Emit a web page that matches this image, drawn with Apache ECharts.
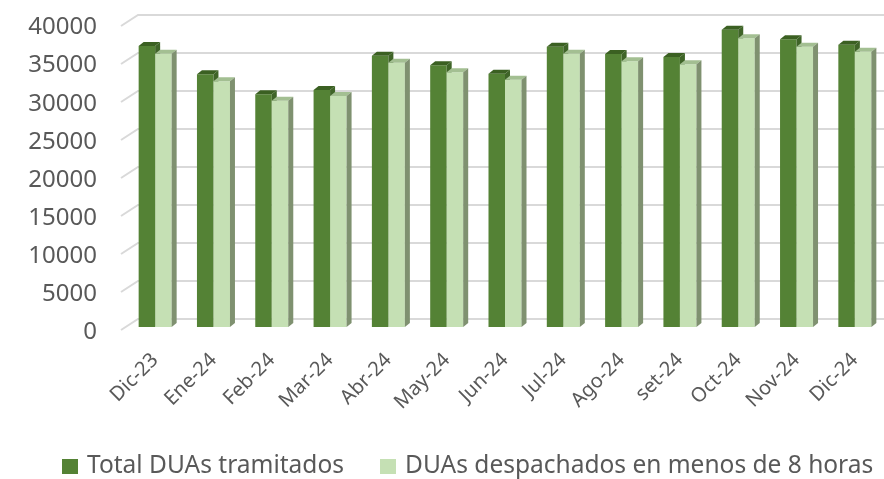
<!DOCTYPE html>
<html>
<head>
<meta charset="utf-8">
<script src="https://cdn.jsdelivr.net/npm/echarts@6/dist/echarts.min.js"></script>
<style>
  html, body { margin: 0; padding: 0; background: #fff; }
  #chart { width: 884px; height: 479px; }
</style>
</head>
<body>
<div id="chart"></div>
<script>
var months = ['Dic-23', 'Ene-24', 'Feb-24', 'Mar-24', 'Abr-24', 'May-24', 'Jun-24',
  'Jul-24', 'Ago-24', 'set-24', 'Oct-24', 'Nov-24', 'Dic-24'];
var totalDuas = [36970, 33250, 30620, 31180, 35700, 34430, 33330, 36880, 35920, 35530, 39120, 37860, 37140];
var despachados = [35960, 32330, 29780, 30400, 34780, 33510, 32540, 35960, 34960, 34570, 37990, 36880, 36220];
var yTicks = [0, 5000, 10000, 15000, 20000, 25000, 30000, 35000, 40000];

var chart = echarts.init(document.getElementById('chart'));

// 3d-looking column: front face, top face, right side face
function column(shift, front, top, side) {
  return function (params, api) {
    var base = api.coord([api.value(0), 0]);
    var tip = api.coord([api.value(0), api.value(1)]);
    var w = api.size([1, 0])[0] * 0.283;
    var x = base[0] + shift * w;
    var dx = 5, dy = 4;
    return {
      type: 'group',
      children: [
        { type: 'rect', shape: { x: x, y: tip[1], width: w, height: base[1] - tip[1] }, style: { fill: front } },
        { type: 'polygon', shape: { points: [[x, tip[1]], [x + w, tip[1]], [x + w + dx, tip[1] - dy], [x + dx, tip[1] - dy]] }, style: { fill: top } },
        { type: 'polygon', shape: { points: [[x + w, tip[1]], [x + w + dx, tip[1] - dy], [x + w + dx, base[1] - dy], [x + w, base[1]]] }, style: { fill: side } }
      ]
    };
  };
}

function gridLine(params, api) {
  var p = api.coord([0, api.value(1)]);
  var x0 = p[0] - api.size([1, 0])[0] / 2;
  return {
    type: 'polyline',
    shape: { points: [[x0 - 5, p[1] + 3], [x0 + 12, p[1] - 8], [api.getWidth(), p[1] - 8]] },
    style: { stroke: '#d9d9d9', lineWidth: 2, fill: null }
  };
}

var legendText = { fontSize: 24.5, color: '#595959', fontFamily: 'Noto Sans', padding: [0, 0, 0, 4] };

var option = {
  animation: false,
  textStyle: { fontFamily: 'Noto Sans' },
  grid: [
    { left: 126, right: 0, top: 23, bottom: 152 },
    { left: 126, right: 0, top: 27.5, bottom: 146.5 }
  ],
  legend: [
    {
      data: ['Total DUAs tramitados'],
      left: 57, top: 449,
      icon: 'rect', itemWidth: 16, itemHeight: 15,
      textStyle: legendText
    },
    {
      data: ['DUAs despachados en menos de 8 horas'],
      left: 375, top: 449,
      icon: 'rect', itemWidth: 16, itemHeight: 15,
      textStyle: legendText
    }
  ],
  xAxis: [
    {
      type: 'category', gridIndex: 0, data: months,
      axisLine: { show: false }, axisTick: { show: false },
      axisLabel: { rotate: 45, margin: 30, fontSize: 20, color: '#595959', interval: 0 }
    },
    { type: 'category', gridIndex: 1, data: months, show: false }
  ],
  yAxis: [
    {
      type: 'value', gridIndex: 0, min: 0, max: 40000, interval: 5000,
      axisLabel: { show: false }, splitLine: { show: false }, axisLine: { show: false }
    },
    {
      type: 'value', gridIndex: 1, min: 0, max: 40000, interval: 5000,
      axisLabel: { margin: 29, fontSize: 24, color: '#595959', formatter: function (v) { return String(v); } },
      splitLine: { show: false }, axisLine: { show: false }, axisTick: { show: false }
    }
  ],
  series: [
    {
      type: 'custom', name: 'grid', silent: true, z: 0,
      xAxisIndex: 0, yAxisIndex: 0,
      data: yTicks.map(function (v) { return [0, v]; }),
      renderItem: gridLine
    },
    {
      type: 'custom', name: 'Total DUAs tramitados', z: 2,
      xAxisIndex: 0, yAxisIndex: 0,
      itemStyle: { color: '#548235' },
      data: totalDuas.map(function (v, i) { return [i, v]; }),
      renderItem: column(-1, '#548235', '#3b6022', '#3f6428')
    },
    {
      type: 'custom', name: 'DUAs despachados en menos de 8 horas', z: 3,
      xAxisIndex: 0, yAxisIndex: 0,
      itemStyle: { color: '#c5e0b4' },
      data: despachados.map(function (v, i) { return [i, v]; }),
      renderItem: column(0, '#c5e0b4', '#a3bf92', '#7f9170')
    }
  ]
};

chart.setOption(option);
</script>
</body>
</html>
